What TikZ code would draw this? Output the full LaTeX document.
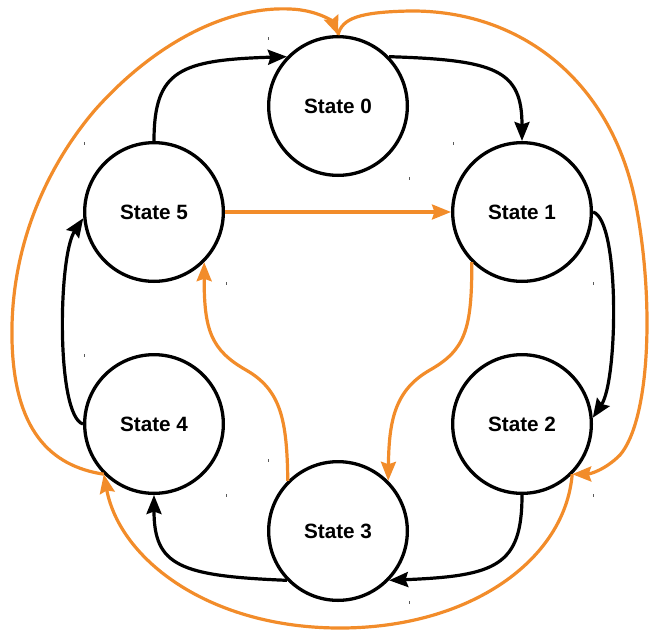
\documentclass[tikz,border=0pt]{standalone}
\usepackage{fontspec}
\setmainfont{Liberation Sans}
\usetikzlibrary{arrows.meta}
\definecolor{flow}{RGB}{242,140,42}
\definecolor{tickgray}{RGB}{90,90,90}
\begin{document}
\begin{tikzpicture}[x=1pt,y=-1pt,
  state/.style={circle,draw=black,line width=3.3pt,minimum size=138.7pt,inner sep=0pt,
    font=\fontsize{20.7}{24}\selectfont\bfseries},
  tip/.style={-{Stealth[length=19pt,width=15pt,inset=2.5pt]}},
  mainedge/.style={tip,draw=black,line width=3.2pt},
  altedge/.style={tip,draw=flow,line width=3.2pt}]
\path[use as bounding box] (0,0) rectangle (650,632);

% states
\node[state] (s0) at (338,106) {State 0};
\node[state] (s1) at (522,212) {State 1};
\node[state] (s2) at (522,424) {State 2};
\node[state] (s3) at (338,531) {State 3};
\node[state] (s4) at (154,424) {State 4};
\node[state] (s5) at (154,212) {State 5};

% ring of transitions
\draw[mainedge] (s5.90) .. controls (154,70) and (180,60) .. (s0.136);
\draw[mainedge] (s0.44) .. controls (496,60) and (522,70) .. (s1.90);
\draw[mainedge] (s1.0) .. controls (620,220) and (618,380) .. (s2.5);
\draw[mainedge] (s2.270) .. controls (522,566) and (496,576) .. (s3.316);
\draw[mainedge] (s3.224) .. controls (180,576) and (154,566) .. (s4.270);
\draw[mainedge] (s4.180) .. controls (56,416) and (58,256) .. (s5.185);

% shortcut transitions
\draw[altedge] (s5) -- (s1);
\draw[altedge] (s1.225) .. controls (472,330) and (465,350) .. (430,370)
  .. controls (395,390) and (389,420) .. (s3.45);
\draw[altedge] (s3.135) .. controls (287,420) and (281,390) .. (246,370)
  .. controls (211,350) and (204,330) .. (s5.315);
\draw[altedge] (s4.225) .. controls (50,466) and (14,430) .. (12,340)
  .. controls (10,245) and (48,165) .. (95,110)
  .. controls (150,48) and (222,6) .. (290,9)
  .. controls (318,10) and (333,22) .. (s0.90);
\draw[altedge] (s0.90) .. controls (342,18) and (360,12) .. (410,11)
  .. controls (520,10) and (610,80) .. (635,200)
  .. controls (655,300) and (650,420) .. (620,455)
  .. controls (605,470) and (590,474) .. (s2.315);
\draw[altedge] (s2.315) .. controls (565,560) and (470,628) .. (340,628)
  .. controls (210,628) and (120,560) .. (s4.225);

% empty label marks
\foreach \x/\y in {268/38,84/143,453/143,409/178,226/283,593/283,84/355,268/460,226/495,593/495,409/602}
  \fill[tickgray] (\x-0.5,\y-1.5) rectangle (\x+0.5,\y+1.5);
\end{tikzpicture}
\end{document}
